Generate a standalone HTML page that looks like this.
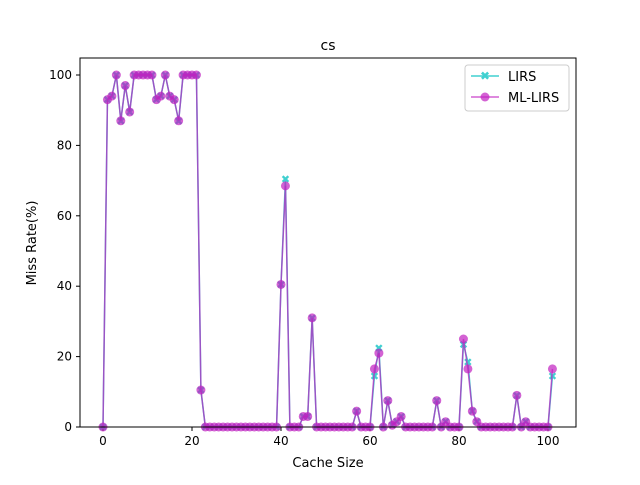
<!DOCTYPE html>
<html><head><meta charset="utf-8"><style>
body{margin:0;background:#fff}
svg text{font-family:"DejaVu Sans","Liberation Sans",sans-serif;fill:#000}
</style></head><body>
<svg id="c" width="640" height="480" xmlns="http://www.w3.org/2000/svg">
<rect width="640" height="480" fill="#fff"/>
<g id="plot"></g>
<rect x="80" y="58" width="496" height="369" fill="none" stroke="#000" stroke-width="1"/>
<text x="328" y="50" font-size="14" text-anchor="middle">cs</text>
<text x="328" y="467" font-size="13" text-anchor="middle">Cache Size</text>
<text x="36" y="243" font-size="13" text-anchor="middle" transform="rotate(-90 36 243)">Miss Rate(%)</text>
<g>
<rect x="465" y="65" width="104" height="46" fill="#fff" stroke="#ccc" rx="3"/>
<g>
<line x1="471" y1="76" x2="499" y2="76" stroke="#40d0d0" stroke-width="1.5"/>
<text x="485" y="80" font-size="12" text-anchor="middle" fill="#40d0d0" style="fill:#40d0d0">✖</text>
<text x="508" y="81" font-size="13">LIRS</text></g>
<g>
<line x1="471" y1="97" x2="499" y2="97" stroke="#c020c0" stroke-opacity="0.7" stroke-width="1.5"/>
<circle cx="485" cy="97" r="4.5" fill="#c020c0" fill-opacity="0.7"/>
<text x="508" y="102" font-size="13">ML-LIRS</text></g>
</g>
</svg>
<script>
const xs = Array.from({length:102},(_, i)=>i);
const mlLirs = [0,93,94,100,87,97,89.5,100,100,100,100,100,93,94,100,94,93,87,100,100,100,100,10.5,
0,0,0,0,0,0,0,0,0,0,0,0,0,0,0,0,0,40.5,68.5,0,0,0,3,3,31,0,0,0,0,0,0,0,0,0,4.5,0,0,0,16.5,21,0,7.5,0.5,1.5,3,
0,0,0,0,0,0,0,7.5,0,1.5,0,0,0,25,16.5,4.5,1.5,0,0,0,0,0,0,0,0,9,0,1.5,0,0,0,0,0,16.5];
const lirs = mlLirs.slice();
lirs[41]=70.5; lirs[61]=14.5; lirs[62]=22.5; lirs[81]=23.5; lirs[82]=18.5; lirs[101]=14.5;
const xTicks=[0,20,40,60,80,100];
const yTicks=[0,20,40,60,80,100];
const X=v=>103+v*4.45, Y=v=>427-v*3.52;
const NS="http://www.w3.org/2000/svg", g=document.getElementById('plot');
function mk(t,a){const e=document.createElementNS(NS,t);for(const k in a)e.setAttribute(k,a[k]);g.appendChild(e);return e;}
xTicks.forEach(t=>{const l=mk('line',{x1:X(t),x2:X(t),y1:427,y2:431,stroke:'#000'});


const tx=mk('text',{x:X(t),y:445,'font-size':12,'text-anchor':'middle'});tx.textContent=t;

});
yTicks.forEach(t=>{const l=mk('line',{x1:76,x2:80,y1:Y(t),y2:Y(t),stroke:'#000'});


const tx=mk('text',{x:72,y:Y(t)+4,'font-size':12,'text-anchor':'end'});tx.textContent=t;

});
const pl=mk('polyline',{points:lirs.map((v,i)=>X(xs[i])+','+Y(v)).join(' '),fill:'none',stroke:'#40d0d0','stroke-width':1.5});


lirs.forEach((v,i)=>{const t=mk('text',{x:X(xs[i]),y:Y(v)+4,'font-size':11,'text-anchor':'middle',style:'fill:#40d0d0'});t.textContent='✖';

});
const pm=mk('polyline',{points:mlLirs.map((v,i)=>X(xs[i])+','+Y(v)).join(' '),fill:'none',stroke:'#c020c0','stroke-opacity':0.7,'stroke-width':1.5});


mlLirs.forEach((v,i)=>{const c=mk('circle',{cx:X(xs[i]),cy:Y(v),r:4.5,fill:'#c020c0','fill-opacity':0.7});

});
</script>
</body></html>
